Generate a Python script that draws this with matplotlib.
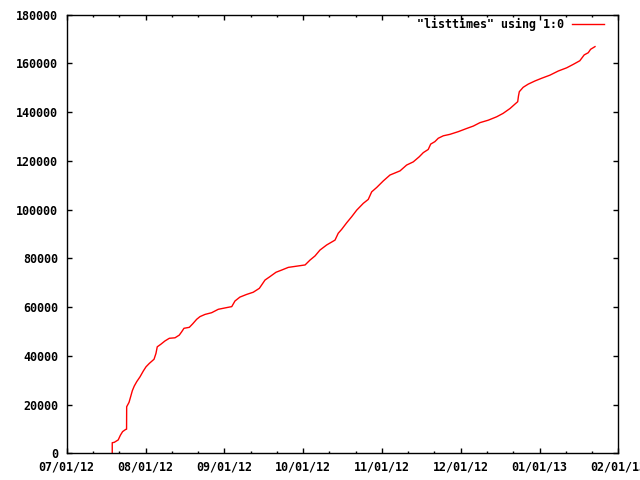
import matplotlib
matplotlib.use("Agg")
import matplotlib.pyplot as plt
import matplotlib.dates as mdates
import numpy as np
import pandas as pd

times = [
    "2012-07-18 18:00", "2012-07-18 18:00", "2012-07-19 13:00", "2012-07-21 02:00",
    "2012-07-21 22:00", "2012-07-22 19:00", "2012-07-24 00:00", "2012-07-24 08:00",
    "2012-07-24 09:00", "2012-07-25 07:00", "2012-07-25 22:00", "2012-07-26 14:00",
    "2012-07-27 08:00", "2012-07-28 07:00", "2012-07-29 14:00", "2012-07-30 21:00",
    "2012-07-31 22:00", "2012-08-02 05:00", "2012-08-04 01:00", "2012-08-04 19:00",
    "2012-08-05 07:00", "2012-08-06 15:00", "2012-08-08 07:00", "2012-08-10 00:00",
    "2012-08-12 05:00", "2012-08-13 21:00", "2012-08-14 20:00", "2012-08-15 17:00",
    "2012-08-17 19:00", "2012-08-19 02:00", "2012-08-20 16:00", "2012-08-21 23:00",
    "2012-08-23 22:00", "2012-08-26 12:00", "2012-08-29 02:00", "2012-09-01 09:00",
    "2012-09-03 08:00", "2012-09-04 14:00", "2012-09-06 12:00", "2012-09-09 03:00",
    "2012-09-11 17:00", "2012-09-14 02:00", "2012-09-15 00:00", "2012-09-16 07:00",
    "2012-09-18 05:00", "2012-09-20 14:00", "2012-09-22 19:00", "2012-09-25 09:00",
    "2012-09-29 07:00", "2012-10-01 22:00", "2012-10-03 20:00", "2012-10-05 19:00",
    "2012-10-07 17:00", "2012-10-10 08:00", "2012-10-13 14:00", "2012-10-14 20:00",
    "2012-10-16 04:00", "2012-10-18 03:00", "2012-10-20 02:00", "2012-10-22 01:00",
    "2012-10-24 15:00", "2012-10-26 13:00", "2012-10-27 21:00", "2012-10-29 20:00",
    "2012-11-01 10:00", "2012-11-04 00:00", "2012-11-07 22:00", "2012-11-10 12:00",
    "2012-11-13 02:00", "2012-11-15 10:00", "2012-11-17 00:00", "2012-11-18 22:00",
    "2012-11-19 21:00", "2012-11-21 12:00", "2012-11-22 20:00", "2012-11-24 19:00",
    "2012-11-27 09:00", "2012-11-30 15:00", "2012-12-03 21:00", "2012-12-06 12:00",
    "2012-12-09 02:00", "2012-12-12 07:00", "2012-12-15 14:00", "2012-12-18 02:00",
    "2012-12-20 19:00", "2012-12-22 17:00", "2012-12-23 19:00", "2012-12-24 02:00",
    "2012-12-24 10:00", "2012-12-25 22:00", "2012-12-27 21:00", "2012-12-30 12:00",
    "2013-01-02 02:00", "2013-01-05 09:00", "2013-01-08 15:00", "2013-01-11 21:00",
    "2013-01-14 10:00", "2013-01-17 00:00", "2013-01-18 17:00", "2013-01-20 07:00",
    "2013-01-21 05:00", "2013-01-22 22:00",
]
counts = [
    0, 4350, 4500, 5500,
    7400, 8900, 9800, 9900,
    19100, 20900, 23200, 25700,
    27600, 29400, 31400, 33800,
    35500, 36900, 38600, 41000,
    43700, 44700, 46100, 47200,
    47400, 48500, 49900, 51300,
    51700, 53100, 55000, 56100,
    57000, 57700, 59100, 59800,
    60200, 62500, 64100, 65200,
    66100, 67700, 69100, 71100,
    72500, 74300, 75200, 76300,
    76900, 77300, 79300, 81000,
    83400, 85500, 87500, 90300,
    91900, 94600, 97100, 99800,
    102600, 104200, 107300, 109100,
    111800, 114200, 115900, 118300,
    119600, 121700, 123400, 124700,
    126900, 127900, 129300, 130300,
    130900, 132000, 133300, 134300,
    135700, 136700, 138100, 139500,
    141500, 143300, 144300, 146600,
    148400, 150200, 151500, 152800,
    153900, 155200, 156900, 158200,
    159600, 161100, 163500, 164400,
    165800, 166900,
]
xtick_labels = ["07/01/12", "08/01/12", "09/01/12", "10/01/12",
                "11/01/12", "12/01/12", "01/01/13", "02/01/13"]
x_start = "2012-07-01"
x_end = "2013-02-01"
yticks = list(range(0, 180001, 20000))

font = {"family": "DejaVu Sans Mono", "weight": "bold", "size": 8.4}

fig = plt.figure(figsize=(6.4, 4.8), dpi=100)
ax = fig.add_axes([66.7 / 640, 1 - 453.3 / 480, 551.6 / 640, 438.6 / 480])

t = pd.to_datetime(times)
ax.plot(t, counts, color="#ff0000", lw=1.0, label='"listtimes" using 1:0')

x0 = mdates.date2num(pd.Timestamp(x_start))
x1 = mdates.date2num(pd.Timestamp(x_end))
ax.set_xlim(x0, x1)
ax.set_ylim(0, 180000)

# gnuplot puts the time tics at an even spacing
major = np.linspace(x0, x1, len(xtick_labels))
minor = np.linspace(x0, x1, 3 * (len(xtick_labels) - 1) + 1)
ax.set_xticks(major)
ax.set_xticklabels(xtick_labels, fontdict=font)
ax.set_xticks(minor, minor=True)
ax.set_yticks(yticks)
ax.set_yticklabels([str(v) for v in yticks], fontdict=font)

ax.tick_params(which="both", direction="in", top=True, right=True, width=1.0)
ax.tick_params(which="major", length=3.3)
ax.tick_params(which="minor", length=1.7)
ax.tick_params(axis="x", pad=5.5)
ax.tick_params(axis="y", pad=6)
for s in ax.spines.values():
    s.set_linewidth(1.0)

leg = ax.legend(loc="upper right", bbox_to_anchor=(0.9746, 0.9925),
                frameon=False, markerfirst=False, borderpad=0, borderaxespad=0,
                handlelength=2.75, handletextpad=0.7, prop=font)

fig.savefig("out.png", dpi=100)
